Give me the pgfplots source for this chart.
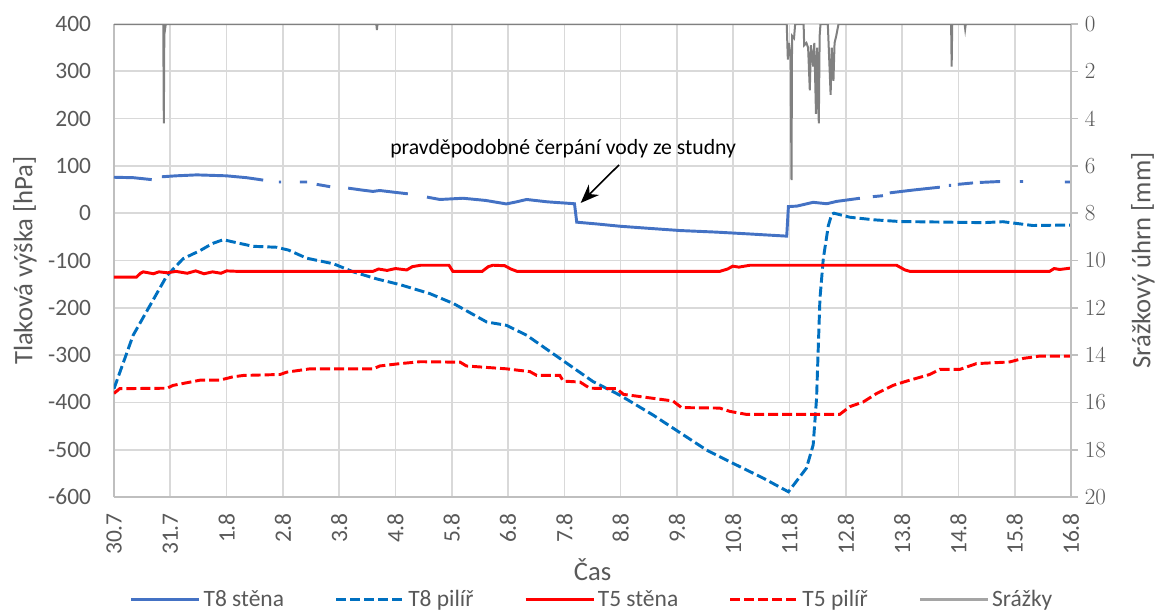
\documentclass[border=0pt]{standalone}
\usepackage{pgfplots}
\pgfplotsset{compat=1.18}
\usetikzlibrary{arrows.meta}
\usepackage{fontspec}
\setmainfont{Carlito}
\definecolor{tEight}{HTML}{4472C4}
\definecolor{tEightP}{HTML}{0070C0}
\definecolor{tFive}{HTML}{FF0000}
\definecolor{precgray}{HTML}{808080}
\definecolor{preclegend}{HTML}{A5A5A5}
\definecolor{gridgray}{HTML}{D9D9D9}
\definecolor{axisgray}{HTML}{BFBFBF}
\definecolor{labelgray}{HTML}{595959}
\begin{document}
\begin{tikzpicture}
\begin{axis}[
  name=A,
  scale only axis, width=717.75pt, height=354.75pt,
  xmin=0, xmax=17, ymin=-600, ymax=400,
  separate axis lines, axis x line*=bottom, axis y line*=left,
  axis line style={draw=axisgray, line width=1.2pt},
  xtick={0,...,17},
  xticklabels={30.7,31.7,1.8,2.8,3.8,4.8,5.8,6.8,7.8,8.8,9.8,10.8,11.8,12.8,13.8,14.8,15.8,16.8},
  ytick={-600,-500,...,400},
  tick style={draw=none},
  grid=major, major grid style={draw=gridgray, line width=1.2pt},
  /pgf/number format/assume math mode=true,
  ticklabel style={font=\fontsize{17.6}{20}\selectfont, text=labelgray},
  xticklabel style={rotate=90, anchor=east, inner xsep=12pt, inner ysep=0pt},
  yticklabel style={anchor=east, inner xsep=17pt},
  xlabel={Čas}, ylabel={Tlaková výška [hPa]},
  label style={font=\fontsize{20}{24}\selectfont, text=labelgray},
  xlabel style={at={(axis description cs:0.5,-0.1543)}, anchor=center},
  ylabel style={at={(axis description cs:-0.093,0.5)}, anchor=center},
  unbounded coords=jump,
  legend columns=5,
  legend cell align=left,
  legend image code/.code={\draw[#1] (0pt,0pt) -- (51pt,0pt);},
  legend style={at={(axis description cs:0.5,-0.217)}, anchor=center, draw=none, fill=none,
    inner sep=0pt,
    font=\fontsize{17.6}{20}\selectfont, text=labelgray,
    /tikz/every even column/.append style={column sep=36pt}},
]
% T8 stena
\addplot[color=tEight, line width=2.2pt] coordinates {
(0,76)(0.35,75)(0.67,71)
(0.7,nan)
(0.85,77)(1.1,79)(1.47,81)(2.0,79)(2.36,75)(2.65,70)
(2.8,nan)
(2.93,66)(2.97,66)
(3.1,nan)
(3.30,66)(3.43,66)
(3.5,nan)
(3.60,61)(3.84,56)
(4.0,nan)
(4.16,53)(4.4,49)(4.6,46)(4.72,48)(5.0,44)(5.22,41)
(5.4,nan)
(5.56,34)(5.79,29)(6.2,31.6)(6.6,27)(6.97,19.6)(7.15,24)(7.33,29)(7.7,24)(8.18,20)(8.22,-19)(8.6,-23)(8.99,-27.6)(9.5,-32)(10.06,-36.7)(10.7,-40)(11.26,-43.7)(11.95,-48.5)(11.98,14)(12.13,15)(12.42,23)(12.66,20)(12.84,25)(13.25,31.6)
(13.4,nan)
(13.48,35)(13.66,37)
(13.72,nan)
(13.78,43)(14.2,49)(14.67,55)
(14.78,nan)
(14.83,59)(14.87,59)
(14.93,nan)
(14.99,61)(15.26,64)
(15.32,nan)
(15.38,65)(15.74,67)
(15.9,nan)
(16.09,67)(16.15,67)
(16.5,nan)
(16.89,66)(17,66)
};
\addlegendentry{T8 stěna}
% T8 pilir
\addplot[color=tEightP, line width=2.2pt, dash pattern=on 7.5pt off 3pt] coordinates {
(0,-371)(0.34,-258)(0.64,-195)(0.94,-132)(1.23,-96)(1.53,-79)(1.75,-64)(1.94,-56)(2.2,-63)(2.47,-70)(2.89,-72)(3.1,-78)(3.42,-95)(3.9,-107)(4.25,-124)(4.67,-139)(5.08,-151)(5.61,-170)(6.03,-191)(6.62,-230)(6.97,-237)(7.33,-258)(7.92,-307)(8.51,-356)(8.99,-385)(9.58,-427)(9.99,-459)(10.53,-501)(11.0,-529)(11.53,-560)(11.98,-589)(12.30,-539)(12.42,-490)(12.48,-392)(12.54,-181)(12.60,-96)(12.69,-26)(12.75,-2)(12.79,0)(13.07,-8.5)(13.5,-14)(13.96,-17.6)(14.85,-19)(15.44,-20)(15.79,-18)(16.32,-26)(17,-25)
};
\addlegendentry{T8 pilíř}
% T5 stena
\addplot[color=tFive, line width=2.2pt] coordinates {
(0,-135)(0.40,-135)(0.47,-127)(0.52,-124)(0.7,-128)(0.8,-124)(0.95,-126)(1.1,-123)(1.3,-127)(1.45,-122)(1.6,-128)(1.75,-124)(1.9,-127)(2.0,-122)(2.2,-123)(4.6,-123)(4.7,-118)(4.85,-121)(5.0,-117)(5.2,-120)(5.3,-113)(5.45,-110)(5.95,-110)(6.02,-123)(6.54,-123)(6.65,-113)(6.73,-110)(6.94,-111)(7.05,-118)(7.16,-123)(10.76,-123)(10.9,-118)(10.99,-112)(11.1,-114)(11.3,-110)(13.9,-110)(14.05,-120)(14.14,-123)(16.62,-123)(16.7,-117)(16.8,-119)(17,-116)
};
\addlegendentry{T5 stěna}
% T5 pilir
\addplot[color=tFive, line width=2.2pt, dash pattern=on 7.5pt off 3pt] coordinates {
(0,-381)(0.1,-371)(0.94,-370)(1.05,-364)(1.53,-353)(1.88,-353)(2.11,-346)(2.30,-343)(2.95,-341)(3.07,-336)(3.48,-329)(4.61,-329)(4.72,-323)(5.08,-318)(5.44,-314)(6.15,-315)(6.26,-323)(6.97,-329)(7.39,-335)(7.51,-343)(7.92,-343)(7.98,-355)(8.28,-357)(8.45,-370)(8.93,-371)(9.05,-383)(9.93,-397)(10.08,-411)(10.76,-412)(10.94,-419)(11.24,-425.5)(12.89,-425.5)(13.07,-409)(13.31,-399)(13.55,-381)(13.84,-364)(14.08,-355)(14.49,-341)(14.67,-330)(15.03,-330)(15.32,-318)(15.91,-314.5)(16.15,-307)(16.45,-302)(17,-302)
};
\addlegendentry{T5 pilíř}
\addlegendimage{color=preclegend, line width=2.2pt}
\addlegendentry{Srážky}
\node[font=\fontsize{16.3}{20}\selectfont, text=black] at (axis cs:7.98,136) {pravděpodobné čerpání vody ze studny};
\draw[-{Stealth[length=14pt,width=11pt]}, line width=1.2pt, black] (axis cs:8.97,102) -- (axis cs:8.29,21.7);
\end{axis}
\begin{axis}[
  scale only axis, width=717.75pt, height=354.75pt,
  xmin=0, xmax=17, ymin=0, ymax=20, y dir=reverse,
  axis x line=none, axis y line*=right,
  axis line style={draw=axisgray, line width=1.2pt},
  ytick={0,2,...,20},
  ytick style={draw=axisgray, line width=1.2pt},
  tick align=outside, major tick length=5.25pt,
  ticklabel style={font=\fontsize{17.6}{20}\selectfont, text=labelgray},
  yticklabel style={anchor=west, inner xsep=5pt},
  ylabel={Srážkový úhrn [mm]},
  label style={font=\fontsize{20}{24}\selectfont, text=labelgray},
  ylabel style={at={(axis description cs:1.0752,0.5)}, anchor=center, rotate=0},
]
\addplot[color=precgray, line width=1.5pt] coordinates {
(0,0)(0.875,0)(0.885,4.2)(0.895,0)(0.91,0.17)(0.92,0)(4.66,0)(4.67,0.25)(4.68,0)
(11.95,0)(11.97,1.5)(11.99,0.8)(12.02,1.4)(12.035,6.6)(12.045,0.5)(12.08,0.6)(12.1,0)
(12.25,0)(12.26,0.9)(12.3,0.8)(12.33,1.0)(12.36,2.8)(12.38,0.9)(12.42,1.8)(12.44,0.8)(12.47,3.8)(12.49,1.0)(12.52,4.2)(12.535,0.5)(12.55,0)
(12.68,0)(12.70,1.2)(12.73,3.0)(12.75,1.0)(12.78,2.4)(12.8,0.8)(12.83,0.5)(12.87,0)
(14.87,0)(14.88,1.8)(14.89,0)(15.11,0)(15.12,0.2)(15.13,0)(17,0)
};
\end{axis}
\pgfresetboundingbox
\path[use as bounding box] ([xshift=-85.5pt,yshift=-87.75pt]A.south west) rectangle ([xshift=63.75pt,yshift=18pt]A.north east);
\end{tikzpicture}
\end{document}
